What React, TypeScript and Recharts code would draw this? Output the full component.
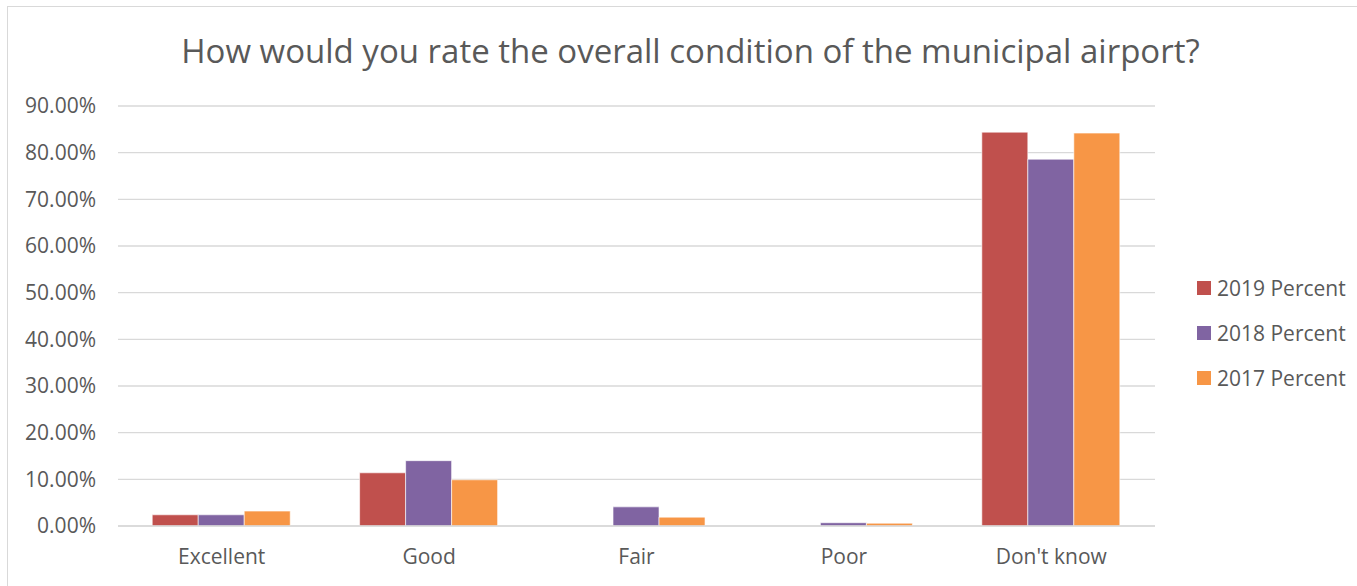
import React from "react";
import { BarChart, Bar, XAxis, YAxis, CartesianGrid } from "recharts";

const categories = ["Excellent", "Good", "Fair", "Poor", "Don't know"];
const pct2019 = [2.4, 11.4, 0, 0, 84.4];
const pct2018 = [2.4, 14.0, 4.1, 0.7, 78.6];
const pct2017 = [3.2, 9.9, 1.9, 0.6, 84.2];
const yTicks = [0, 10, 20, 30, 40, 50, 60, 70, 80, 90];

const SERIES = [
  { key: "2019 Percent", values: pct2019, color: "#C0504D" },
  { key: "2018 Percent", values: pct2018, color: "#8064A2" },
  { key: "2017 Percent", values: pct2017, color: "#F79646" },
];

const FONT = "'Open Sans', 'Noto Sans', sans-serif";
const TEXT = "#595959";

const data = categories.map((name, i) => {
  const row: Record<string, any> = { name };
  SERIES.forEach((s) => (row[s.key] = s.values[i]));
  return row;
});

export default function App() {
  return (
    <div
      style={{
        position: "absolute",
        top: 6,
        left: 7,
        width: 1350,
        height: 590,
        border: "1px solid #d9d9d9",
        fontFamily: FONT,
        background: "#fff",
      }}
    >
      <div
        style={{
          position: "absolute",
          top: 24,
          left: 0,
          width: 1365,
          textAlign: "center",
          fontSize: 33,
          color: TEXT,
          lineHeight: "40px",
        }}
      >
        How would you rate the overall condition of the municipal airport?
      </div>

      <BarChart
        width={1345}
        height={578}
        data={data}
        margin={{ top: 99, right: 198, left: 0, bottom: 19 }}
        barCategoryGap="16.5%"
        barGap={0}
      >
        <CartesianGrid vertical={false} stroke="#d9d9d9" strokeWidth={1.3} />
        <XAxis
          dataKey="name"
          height={40}
          tickLine={false}
          axisLine={{ stroke: "#d9d9d9", strokeWidth: 1.3 }}
          tickSize={0}
          tickMargin={23}
          tick={{ fontSize: 21, fill: TEXT, fontFamily: FONT }}
        />
        <YAxis
          width={110}
          domain={[0, 90]}
          ticks={yTicks}
          interval={0}
          tickLine={false}
          axisLine={false}
          tickSize={0}
          tickMargin={22}
          tickFormatter={(v: number) => `${v.toFixed(2)}%`}
          tick={{ fontSize: 21, fill: TEXT, fontFamily: FONT }}
        />
        {SERIES.map((s) => (
          <Bar
            key={s.key}
            dataKey={s.key}
            fill={s.color}
            stroke="#ffffff"
            strokeWidth={0.6}
            isAnimationActive={false}
          />
        ))}
      </BarChart>

      {SERIES.map((s, i) => (
        <div
          key={s.key}
          style={{
            position: "absolute",
            left: 1189,
            top: 268 + i * 45,
            display: "flex",
            alignItems: "center",
            fontSize: 21,
            color: TEXT,
            lineHeight: "26px",
          }}
        >
          <span
            style={{
              display: "inline-block",
              width: 14,
              height: 14,
              background: s.color,
              marginRight: 6,
            }}
          />
          {s.key}
        </div>
      ))}
    </div>
  );
}
